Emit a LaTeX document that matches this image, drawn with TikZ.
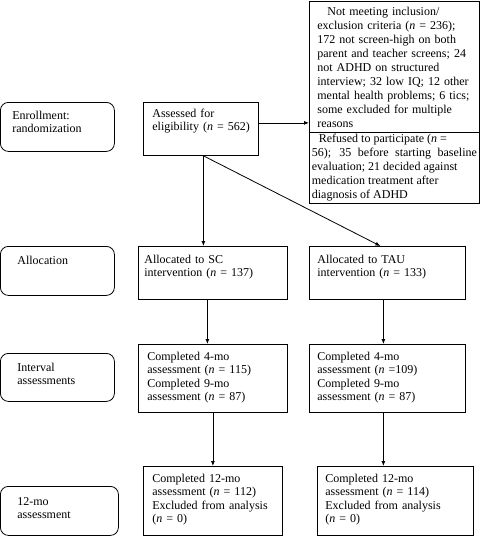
\documentclass[tikz,border=0pt]{standalone}
\usepackage{fontspec}
\setmainfont{Liberation Serif}
\usepackage{tikz}
\usetikzlibrary{arrows.meta, positioning}
\tikzstyle{block} = [rectangle, draw, line width=0.8pt, anchor=north west, align=left, inner ysep=0pt, inner xsep=8pt, font=\fontsize{12}{13.4}\selectfont]
\tikzstyle{stage} = [block, rounded corners=8pt, inner xsep=17pt, text height=18pt]
\tikzstyle{arrow} = [line width=0.8pt,->,>={Latex[length=5pt,width=4pt]}]

\begin{document}
\begin{tikzpicture}[x=1pt, y=-1pt]
    \useasboundingbox (0,0) rectangle (482,536);

    % Stages
    \node (enroll) [stage, inner xsep=12pt, text width=90pt, text height=17pt, text depth=32pt] at (0,102) {Enrollment:\\randomization};
    \node (alloc) [stage, text width=80pt, text depth=31pt] at (0,246) {Allocation};
    \node (interval) [stage, text width=80pt, text depth=30pt] at (0,353) {Interval\\assessments};
    \node (final) [stage, text width=84pt, text height=19pt, text depth=30pt] at (0,486) {12-mo\\assessment};

    % Enrollment
    \node (assess) [block, inner xsep=9pt, text width=97pt, text height=15pt, text depth=38pt] at (143,102) {Assessed for\\\mbox{eligibility (\emph{n} = 562)}};
    \node (excl) [block, text width=154pt, text height=14pt, text depth=117pt, font=\fontsize{12}{14}\selectfont] at (309,1) {\hspace{10pt}Not meeting inclusion/\\exclusion criteria (\emph{n} = 236);\\172 not screen-high on both\\parent and teacher screens; 24\\not ADHD on structured\\interview; 32 low IQ; 12 other\\mental health problems; 6 tics;\\some excluded for multiple\\reasons};
    \node (refuse) [block, align=justify, inner xsep=2.5pt, text width=165pt, text height=10pt, text depth=61pt, font=\fontsize{12}{14}\selectfont] at (309,132) {\hspace{7pt}Refused to participate (\emph{n} =\\56); 35 before starting baseline\linebreak evaluation; 21 decided against\\medication treatment after\\diagnosis of ADHD};

    % Allocation
    \node (sc) [block, inner xsep=6pt, text width=137pt, text height=17pt, text depth=36pt] at (138,246) {Allocated to SC\\intervention (\emph{n} = 137)};
    \node (tau) [block, text width=140pt, text height=17pt, text depth=36pt] at (309,246) {Allocated to TAU\\intervention (\emph{n} = 133)};

    % Interval assessments
    \node (sc4) [block, inner xsep=9pt, text width=131pt, text height=16pt, text depth=52pt] at (138,344) {Completed 4-mo\\assessment (\emph{n} = 115)\\Completed 9-mo\\assessment (\emph{n} = 87)};
    \node (tau4) [block, text width=140pt, text height=16pt, text depth=52pt] at (309,344) {Completed 4-mo\\assessment (\emph{n} =109)\\Completed 9-mo\\assessment (\emph{n} = 87)};

    % 12-mo assessment
    \node (sc12) [block, inner xsep=9pt, text width=121pt, text height=16pt, text depth=53pt] at (143,466) {Completed 12-mo\\assessment (\emph{n} = 112)\\Excluded from analysis\\(\emph{n} = 0)};
    \node (tau12) [block, text width=140pt, text height=16pt, text depth=53pt] at (317,466) {Completed 12-mo\\assessment (\emph{n} = 114)\\Excluded from analysis\\(\emph{n} = 0)};

    % Arrows
    \coordinate (split) at ([xshift=2.5pt]assess.south);
    \draw [arrow] ([yshift=6pt]assess.east) -- ([yshift=6pt]assess.east -| excl.west);
    \draw [arrow] (split) -- (split |- sc.north);
    \draw [arrow] (split) -- ([xshift=-7pt]tau.north);
    \draw [arrow] ([xshift=-5.5pt]sc.south) -- ([xshift=-5.5pt]sc.south |- sc4.north);
    \draw [arrow] ([xshift=-4pt]tau.south) -- ([xshift=-4pt]tau.south |- tau4.north);
    \draw [arrow] (sc4.south) -- (sc4.south |- sc12.north);
    \draw [arrow] ([xshift=-4pt]tau4.south) -- ([xshift=-4pt]tau4.south |- tau12.north);

\end{tikzpicture}
\end{document}
